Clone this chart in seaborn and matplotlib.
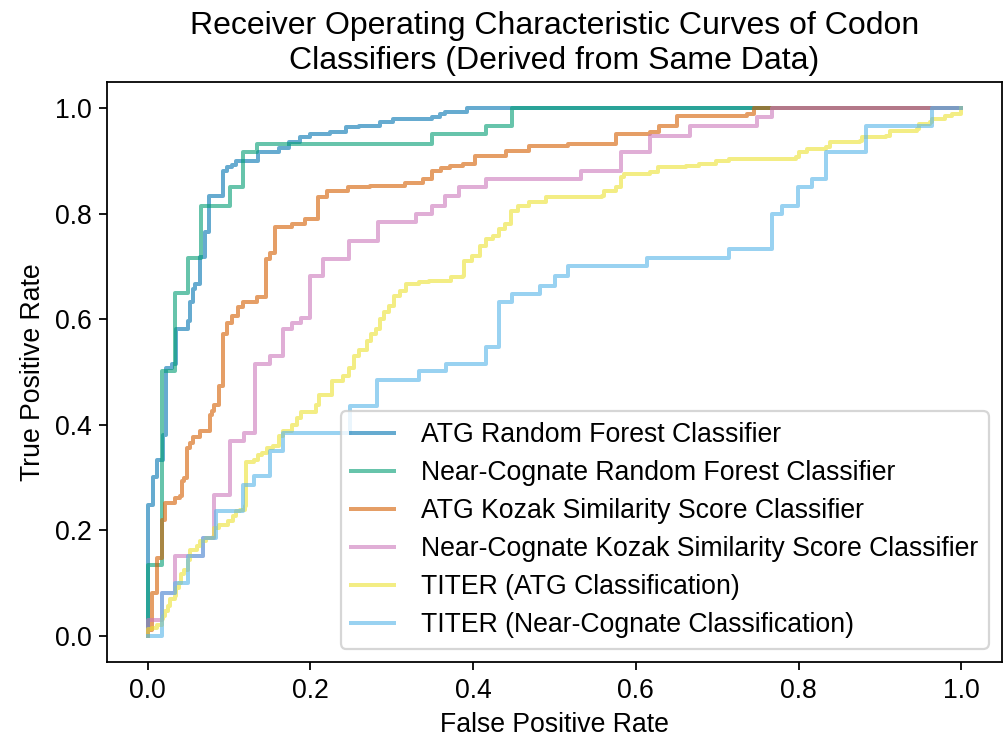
import matplotlib
matplotlib.use("Agg")
import matplotlib.pyplot as plt
import seaborn as sns

plt.rcParams["font.family"] = ["Liberation Sans", "DejaVu Sans"]
plt.rcParams["font.size"] = 12

labels = [
    "ATG Random Forest Classifier",
    "Near-Cognate Random Forest Classifier",
    "ATG Kozak Similarity Score Classifier",
    "Near-Cognate Kozak Similarity Score Classifier",
    "TITER (ATG Classification)",
    "TITER (Near-Cognate Classification)",
]

# ROC step points: at each fpr the tpr jumps up to the listed value
atg_rf_fpr = [0.0, 0.0, 0.006, 0.012, 0.019, 0.023, 0.030, 0.035, 0.049, 0.052, 0.056, 0.058, 0.064,
              0.070, 0.075, 0.092, 0.097, 0.104, 0.109, 0.135, 0.162, 0.174, 0.187, 0.199, 0.224,
              0.244, 0.260, 0.285, 0.301, 0.350, 0.359, 0.365, 0.392, 1.0]
atg_rf_tpr = [0.0, 0.248, 0.300, 0.333, 0.380, 0.507, 0.515, 0.582, 0.597, 0.633, 0.658, 0.667, 0.718,
              0.766, 0.834, 0.881, 0.888, 0.893, 0.900, 0.917, 0.924, 0.936, 0.945, 0.951, 0.955,
              0.964, 0.966, 0.974, 0.979, 0.983, 0.989, 0.994, 1.0, 1.0]

nc_rf_fpr = [0.0, 0.0, 0.017, 0.033, 0.050, 0.066, 0.101, 0.117, 0.134, 0.350, 0.416, 0.448, 1.0]
nc_rf_tpr = [0.0, 0.134, 0.501, 0.650, 0.716, 0.815, 0.851, 0.917, 0.932, 0.951, 0.966, 1.0, 1.0]

atg_kozak_fpr = [0.0, 0.0, 0.005, 0.011, 0.017, 0.021, 0.033, 0.040, 0.042, 0.045, 0.048, 0.052, 0.056,
                 0.064, 0.076, 0.079, 0.082, 0.088, 0.092, 0.098, 0.104, 0.111, 0.117, 0.134, 0.146,
                 0.150, 0.156, 0.177, 0.193, 0.209, 0.221, 0.246, 0.273, 0.316, 0.338, 0.349, 0.360,
                 0.371, 0.387, 0.402, 0.441, 0.469, 0.516, 0.576, 0.617, 0.629, 0.651, 0.737, 0.745, 1.0]
atg_kozak_tpr = [0.0, 0.010, 0.081, 0.147, 0.219, 0.251, 0.261, 0.265, 0.293, 0.299, 0.355, 0.365, 0.376,
                 0.389, 0.418, 0.426, 0.437, 0.474, 0.573, 0.592, 0.607, 0.624, 0.633, 0.643, 0.715,
                 0.725, 0.775, 0.781, 0.790, 0.832, 0.843, 0.851, 0.853, 0.858, 0.866, 0.881, 0.886,
                 0.890, 0.894, 0.909, 0.919, 0.928, 0.932, 0.951, 0.955, 0.966, 0.985, 0.989, 1.0, 1.0]

nc_kozak_fpr = [0.0, 0.0, 0.017, 0.033, 0.068, 0.082, 0.101, 0.118, 0.132, 0.150, 0.166, 0.177, 0.188,
                0.199, 0.215, 0.248, 0.283, 0.330, 0.349, 0.365, 0.383, 0.416, 0.533, 0.582, 0.617,
                0.666, 0.749, 0.767, 1.0]
nc_kozak_tpr = [0.0, 0.030, 0.081, 0.151, 0.185, 0.267, 0.369, 0.384, 0.516, 0.531, 0.582, 0.592, 0.603,
                0.682, 0.715, 0.749, 0.785, 0.800, 0.815, 0.834, 0.851, 0.866, 0.881, 0.917, 0.947,
                0.966, 0.983, 1.0, 1.0]

titer_atg_fpr = [0.0, 0.0, 0.005, 0.011, 0.017, 0.019, 0.021, 0.025, 0.027, 0.033,
                 0.035, 0.039, 0.041, 0.045, 0.050, 0.052, 0.060, 0.064, 0.072, 0.080,
                 0.082, 0.088, 0.099, 0.105, 0.109, 0.113, 0.119, 0.121, 0.131, 0.135,
                 0.141, 0.147, 0.154, 0.162, 0.166, 0.177, 0.184, 0.189, 0.207, 0.211,
                 0.227, 0.240, 0.248, 0.254, 0.260, 0.269, 0.275, 0.281, 0.285, 0.291,
                 0.297, 0.303, 0.310, 0.318, 0.334, 0.346, 0.373, 0.387, 0.389, 0.399,
                 0.408, 0.416, 0.424, 0.432, 0.439, 0.447, 0.455, 0.469, 0.490, 0.558,
                 0.561, 0.576, 0.582, 0.586, 0.617, 0.627, 0.662, 0.678, 0.699, 0.715,
                 0.797, 0.801, 0.810, 0.834, 0.838, 0.875, 0.878, 0.908, 0.912, 0.945,
                 0.948, 0.961, 0.964, 0.980, 0.989, 1.0]
titer_atg_tpr = [0.0, 0.012, 0.015, 0.021, 0.031, 0.037, 0.047, 0.056, 0.069, 0.075,
                 0.091, 0.100, 0.116, 0.125, 0.144, 0.163, 0.170, 0.179, 0.185, 0.188,
                 0.204, 0.210, 0.217, 0.226, 0.236, 0.239, 0.245, 0.330, 0.333, 0.342,
                 0.346, 0.355, 0.359, 0.378, 0.389, 0.399, 0.412, 0.425, 0.437, 0.456,
                 0.482, 0.493, 0.507, 0.531, 0.541, 0.558, 0.573, 0.582, 0.601, 0.614,
                 0.626, 0.645, 0.654, 0.667, 0.671, 0.673, 0.680, 0.682, 0.711, 0.720,
                 0.739, 0.752, 0.758, 0.771, 0.781, 0.805, 0.815, 0.822, 0.832, 0.834,
                 0.843, 0.851, 0.870, 0.875, 0.879, 0.888, 0.890, 0.894, 0.900, 0.904,
                 0.907, 0.917, 0.922, 0.926, 0.936, 0.938, 0.945, 0.947, 0.957, 0.960,
                 0.970, 0.974, 0.979, 0.985, 0.989, 1.0]

titer_nc_fpr = [0.0, 0.018, 0.033, 0.050, 0.068, 0.084, 0.117, 0.131, 0.150, 0.166,
                0.249, 0.282, 0.333, 0.367, 0.416, 0.432, 0.448, 0.482, 0.500, 0.516,
                0.614, 0.715, 0.767, 0.780, 0.799, 0.816, 0.834, 0.883, 0.964, 1.0]
titer_nc_tpr = [0.0, 0.081, 0.100, 0.151, 0.185, 0.236, 0.285, 0.302, 0.350, 0.384,
                0.435, 0.484, 0.501, 0.516, 0.548, 0.633, 0.648, 0.664, 0.682, 0.701,
                0.716, 0.733, 0.800, 0.815, 0.851, 0.866, 0.917, 0.966, 1.0, 1.0]

curves = [
    (atg_rf_fpr, atg_rf_tpr),
    (nc_rf_fpr, nc_rf_tpr),
    (atg_kozak_fpr, atg_kozak_tpr),
    (nc_kozak_fpr, nc_kozak_tpr),
    (titer_atg_fpr, titer_atg_tpr),
    (titer_nc_fpr, titer_nc_tpr),
]

palette = sns.color_palette("colorblind")
colors = [palette[i] for i in (0, 2, 3, 4, 8, 9)]

fig, ax = plt.subplots(figsize=(1005 / 160, 740 / 160), dpi=160)
fig.subplots_adjust(left=107 / 1005, right=1002 / 1005, top=1 - 82 / 740, bottom=1 - 662 / 740)

for label, (fpr, tpr), color in zip(labels, curves, colors):
    sns.lineplot(x=fpr, y=tpr, ax=ax, color=color, alpha=0.6, linewidth=1.8,
                 label=label, estimator=None, sort=False, drawstyle="steps-post")

ax.set_title("Receiver Operating Characteristic Curves of Codon\nClassifiers (Derived from Same Data)")
ax.set_xlabel("False Positive Rate")
ax.set_ylabel("True Positive Rate")
ax.legend(loc="lower right", labelspacing=0.45, handlelength=1.6, handletextpad=1.0)

fig.savefig("out.png", dpi=160)
